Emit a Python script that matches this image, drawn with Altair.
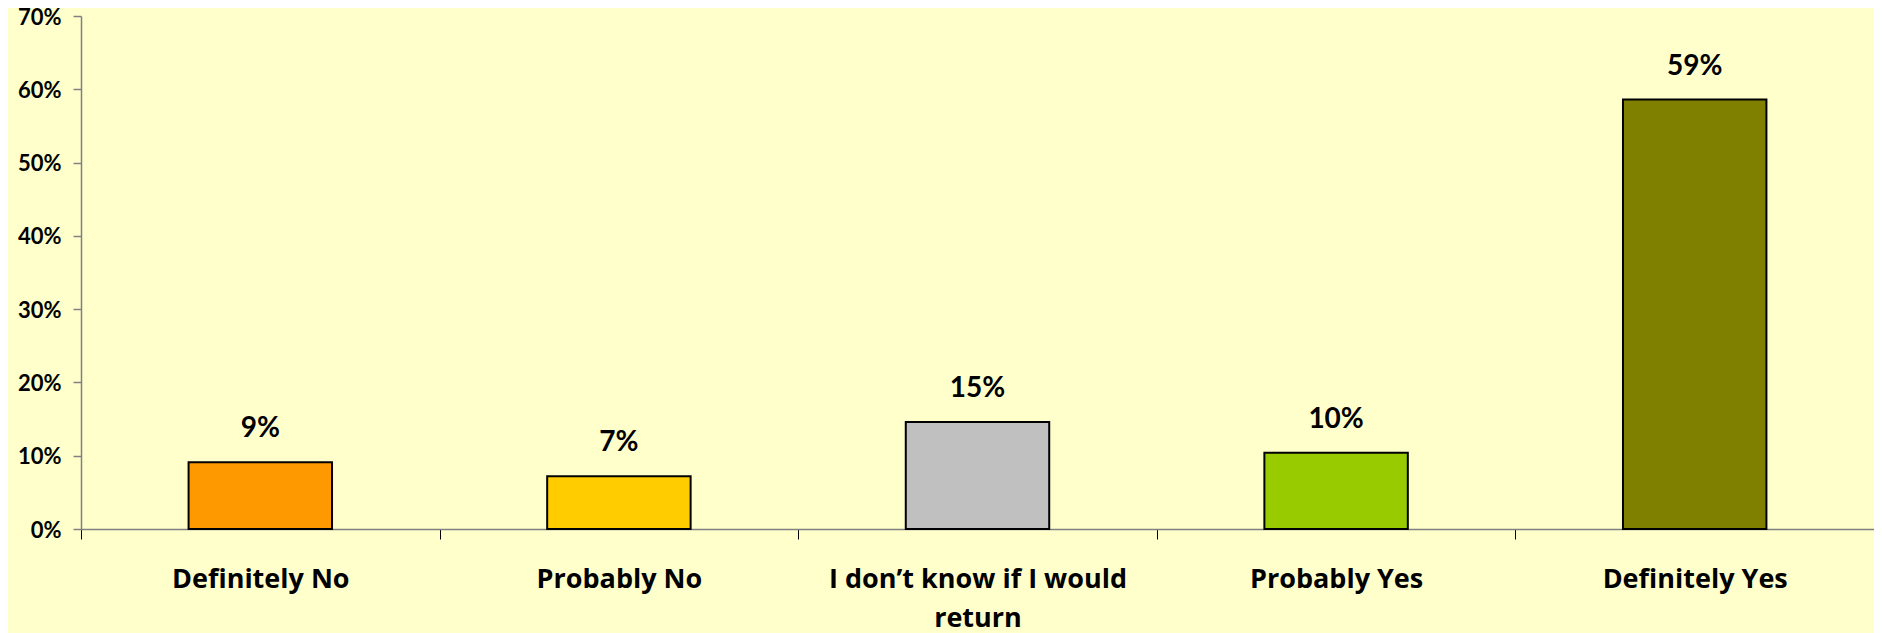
import altair as alt
import pandas as pd

categories = ["Definitely No", "Probably No", "I don\u2019t know if I would return", "Probably Yes", "Definitely Yes"]
values = [0.091, 0.072, 0.146, 0.104, 0.586]
colors = ["#FF9900", "#FFCC00", "#C0C0C0", "#99CC00", "#808000"]
y_ticks = [0, 0.1, 0.2, 0.3, 0.4, 0.5, 0.6, 0.7]

df = pd.DataFrame({"category": categories, "value": values, "color": colors})

x_enc = alt.X(
    "category:N",
    sort=categories,
    title=None,
    scale=alt.Scale(paddingInner=0, paddingOuter=0),
    axis=alt.Axis(
        labelAngle=0,
        labelFont="Open Sans",
        labelFontWeight="bold",
        labelFontSize=27,
        labelColor="#000000",
        labelBaseline="alphabetic",
        labelPadding=48,
        labelLineHeight=39,
        labelLimit=400,
        labelExpr="indexof(datum.label, 'would return') > 0 ? ['I don\u2019t know if I would', 'return'] : datum.label",
        tickBand="extent",
        tickSize=10,
        tickColor="#000000",
        tickWidth=1,
        domainColor="#808080",
        domainWidth=1.5,
    ),
)

y_enc = alt.Y(
    "value:Q",
    title=None,
    scale=alt.Scale(domain=[0, 0.7], nice=False),
    axis=alt.Axis(
        values=y_ticks,
        format=".0%",
        grid=False,
        labelFont="Lato",
        labelFontWeight="bold",
        labelFontSize=22,
        labelColor="#000000",
        labelPadding=12,
        labelOffset=1,
        tickSize=8,
        tickColor="#808080",
        tickWidth=1.5,
        domainColor="#808080",
        domainWidth=1.5,
    ),
)

bars = alt.Chart(df).mark_bar(
    width=alt.RelativeBandSize(0.4),
    stroke="#000000",
    strokeWidth=2,
).encode(
    x=x_enc,
    y=y_enc,
    color=alt.Color("color:N", scale=None),
)

labels = alt.Chart(df).mark_text(
    font="Lato",
    fontWeight="bold",
    fontSize=28,
    baseline="alphabetic",
    align="center",
    dy=-25,
    color="#000000",
).encode(
    x=alt.X("category:N", sort=categories),
    y=alt.Y("value:Q"),
    text=alt.Text("value:Q", format=".0%"),
)

chart = alt.layer(bars, labels).properties(
    width=1793,
    height=513,
    background="#FFFFCC",
    padding={"left": 73, "top": 8, "right": 0, "bottom": 104},
    autosize=alt.AutoSizeParams(type="none"),
).configure_view(stroke=None)

chart.save("out.html", embed_options={"renderer": "svg", "actions": False})
